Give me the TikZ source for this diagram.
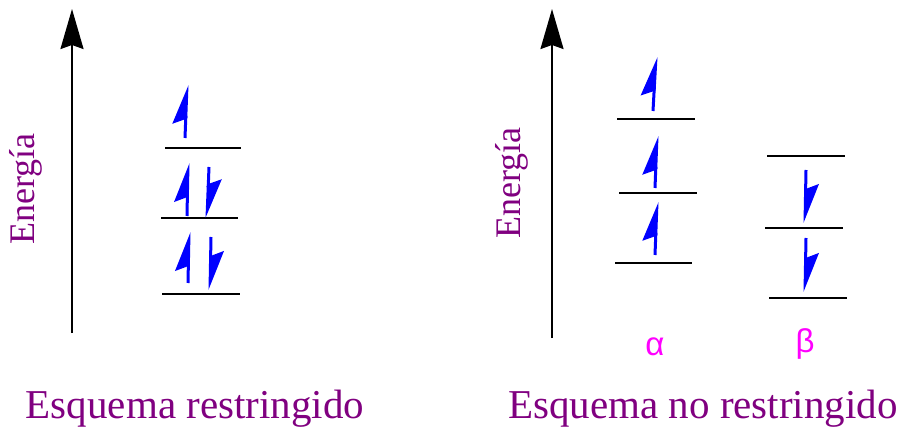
\documentclass[tikz,border=0pt]{standalone}
\usepackage{fontspec}
\setmainfont{Liberation Serif}
\newfontfamily\greekfont{Liberation Sans}
\usetikzlibrary{arrows.meta}
\definecolor{titlepurple}{HTML}{800080}
\definecolor{spinblue}{HTML}{0000FF}
\definecolor{labelmagenta}{HTML}{FF00FF}
\tikzset{
  nivel/.style={line width=2pt,black},
  spin/.style={line width=3pt,spinblue,-{Stealth[harpoon,length=35pt,width=26pt,inset=5pt]}},
  eje/.style={line width=2pt,-{Stealth[length=40pt,width=23pt,inset=4pt]}},
  energia/.style={rotate=90,inner sep=0pt,text=titlepurple,font=\fontsize{36}{36}\selectfont},
  esquema/.style={anchor=base,inner sep=0pt,text=titlepurple,font=\fontsize{41}{41}\selectfont},
  griega/.style={anchor=base,inner sep=0pt,text=labelmagenta,font=\greekfont\fontsize{33}{33}\selectfont}
}
% #1 name, #2 x left, #3 x right, #4 y
\newcommand{\nivelline}[4]{%
  \coordinate (#1a) at (#2,#4);
  \coordinate (#1b) at (#3,#4);
  \draw[nivel] (#1a) -- (#1b);
}
% #1 name, #2 x start, #3 y start, #4 x tip, #5 y tip
\newcommand{\spinarrow}[5]{%
  \coordinate (#1s) at (#2,#3);
  \coordinate (#1t) at (#4,#5);
  \draw[spin] (#1s) -- (#1t);
}

\begin{document}
\begin{tikzpicture}[x=1pt,y=-1pt]
  \useasboundingbox (0,0) rectangle (904,427);

  % esquema restringido
  \coordinate (ejeLs) at (72,333);
  \coordinate (ejeLt) at (72,9);
  \draw[eje] (ejeLs) -- (ejeLt);
  \node[energia] (energiaL) at (26,189) {Energía};
  \nivelline{L1}{165}{241}{148}
  \nivelline{L2}{161}{238}{218}
  \nivelline{L3}{162}{240}{294}
  \spinarrow{uL1}{185}{138}{187}{85}
  \spinarrow{uL2}{187}{216}{188}{163}
  \spinarrow{dL2}{209}{167}{207}{218}
  \spinarrow{uL3}{188}{283}{189}{232}
  \spinarrow{dL3}{211}{237}{210}{290}
  \node[esquema] (esqL) at (195,418) {Esquema restringido};

  % esquema no restringido
  \coordinate (ejeRs) at (552,338);
  \coordinate (ejeRt) at (552,9);
  \draw[eje] (ejeRs) -- (ejeRt);
  \node[energia] (energiaR) at (512,183) {Energía};
  \nivelline{A1}{617}{695}{119}
  \nivelline{A2}{619}{697}{193}
  \nivelline{A3}{615}{692}{263}
  \spinarrow{uA1}{653}{111}{656}{57}
  \spinarrow{uA2}{655}{188}{657}{136}
  \spinarrow{uA3}{655}{255}{657}{202}
  \nivelline{B1}{767}{845}{156}
  \nivelline{B2}{765}{843}{228}
  \nivelline{B3}{769}{847}{298}
  \spinarrow{dB2}{806}{170}{805}{223}
  \spinarrow{dB3}{806}{238}{805}{292}
  \node[griega] (alfa) at (655,355) {α};
  \node[griega] (beta) at (805,352) {β};
  \node[esquema] (esqR) at (703,418) {Esquema no restringido};
\end{tikzpicture}
\end{document}
